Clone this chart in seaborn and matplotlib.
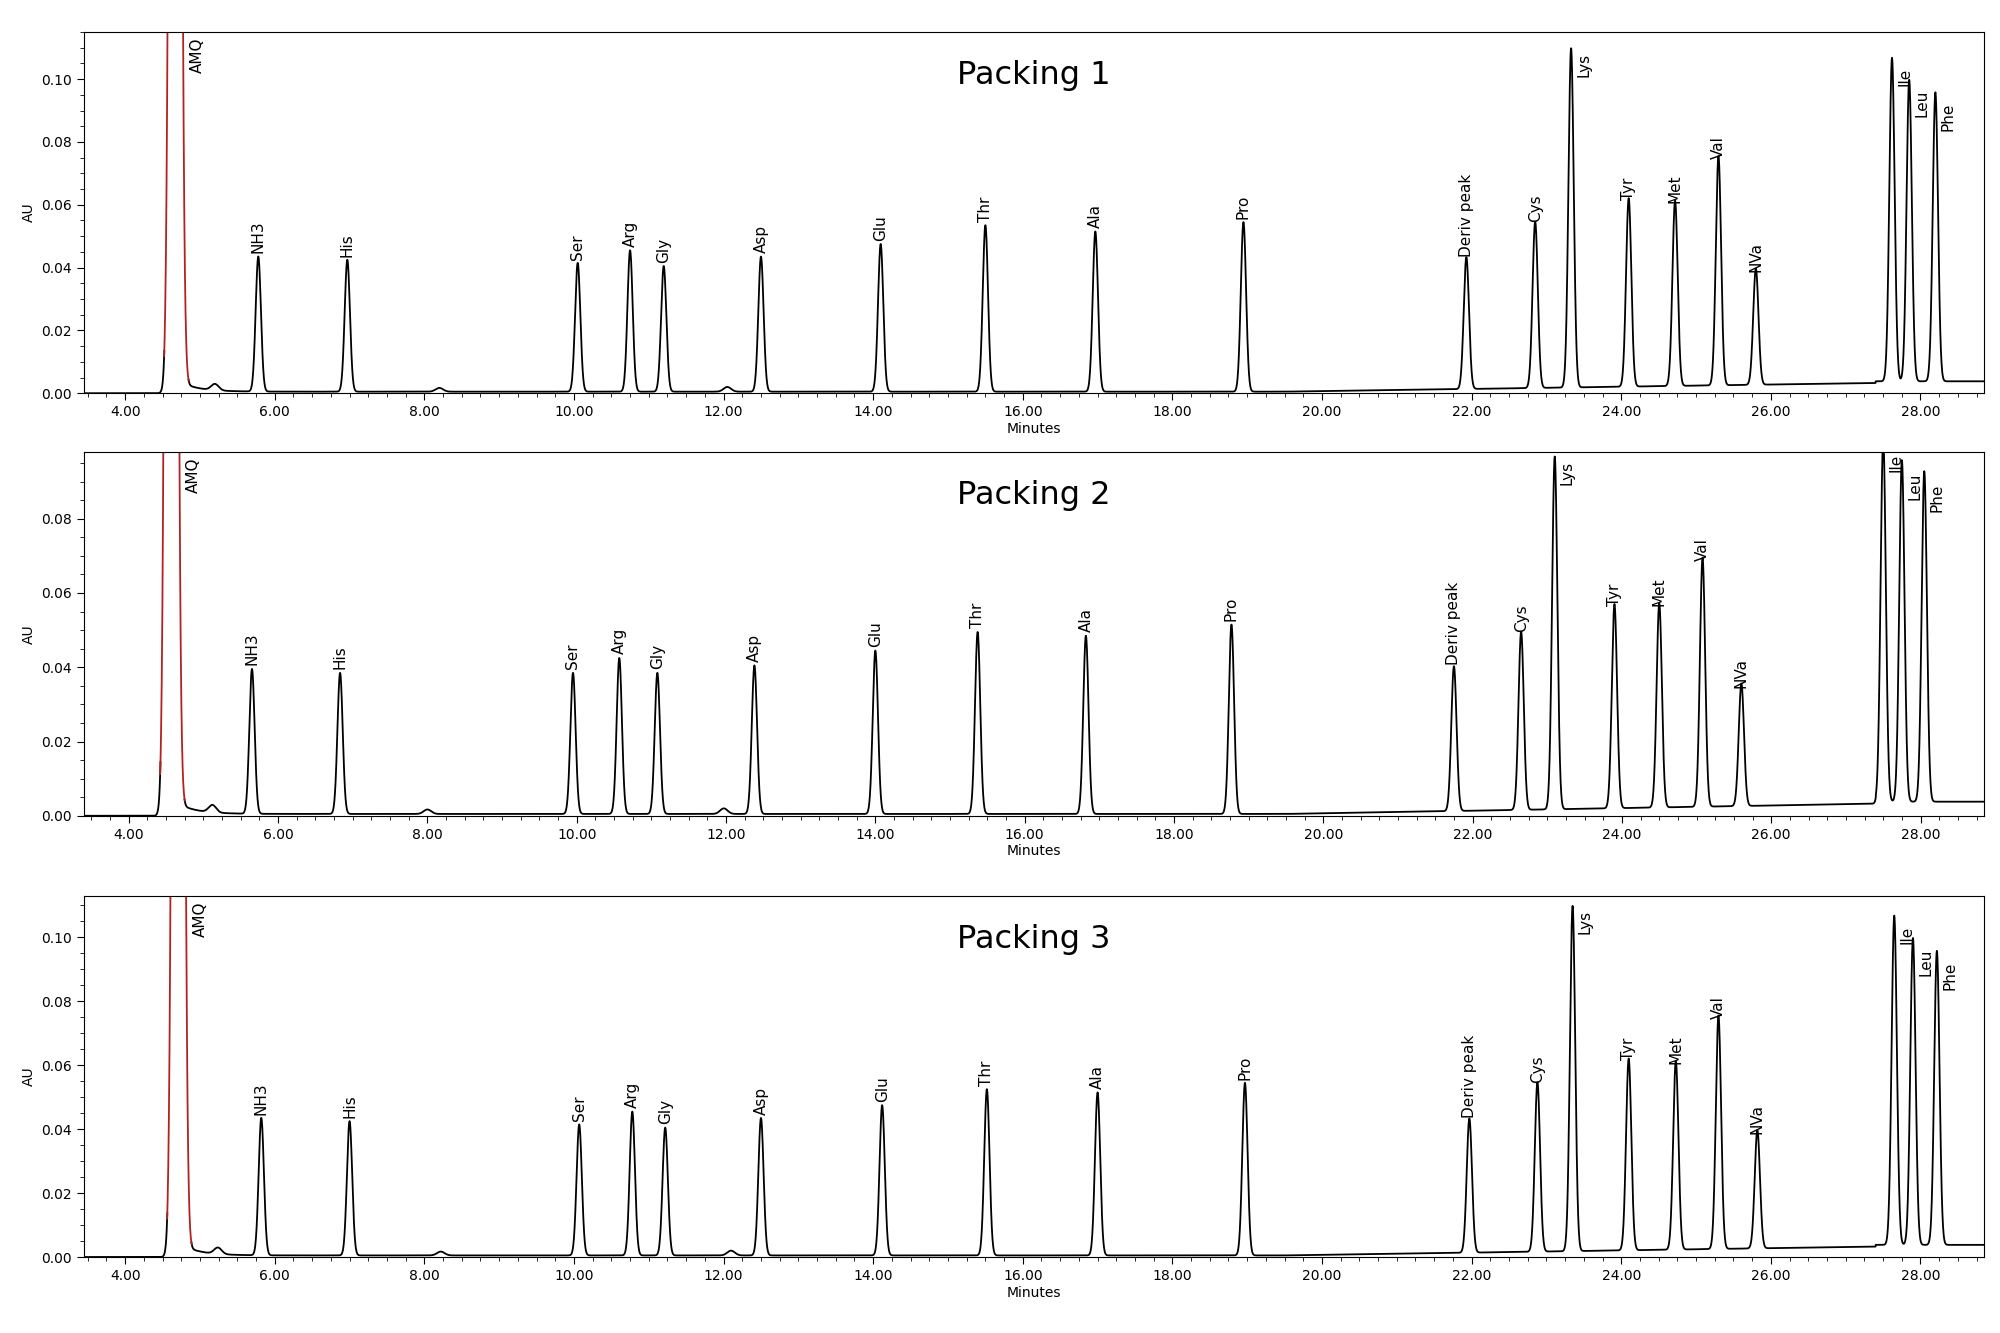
import numpy as np
import pandas as pd
import matplotlib
matplotlib.use("Agg")
import matplotlib.pyplot as plt
from matplotlib.ticker import MultipleLocator, FormatStrFormatter
import seaborn as sns

names = ["NH3","His","Ser","Arg","Gly","Asp","Glu","Thr","Ala","Pro","Deriv peak",
         "Cys","Lys","Tyr","Met","Val","NVa","Ile","Leu","Phe"]
side_label = ["Lys","Ile","Leu","Phe"]

rt1 = [5.78,6.97,10.05,10.75,11.2,12.5,14.1,15.5,16.97,18.95,21.93,22.85,23.33,24.1,24.72,25.3,25.8,27.62,27.85,28.2]
h1  = [0.043,0.042,0.041,0.045,0.040,0.043,0.047,0.053,0.051,0.054,0.042,0.053,0.108,0.060,0.059,0.073,0.037,0.103,0.096,0.092]
rt2 = [5.65,6.83,9.95,10.57,11.08,12.38,14.0,15.37,16.82,18.77,21.75,22.65,23.1,23.9,24.5,25.08,25.6,27.5,27.75,28.05]
h2  = [0.039,0.038,0.038,0.042,0.038,0.040,0.044,0.049,0.048,0.051,0.039,0.048,0.095,0.055,0.055,0.067,0.033,0.098,0.092,0.089]
rt3 = [5.82,7.0,10.07,10.78,11.22,12.5,14.12,15.52,17.0,18.97,21.97,22.88,23.35,24.1,24.73,25.3,25.82,27.65,27.9,28.22]
h3  = [0.043,0.042,0.041,0.045,0.040,0.043,0.047,0.052,0.051,0.054,0.042,0.053,0.108,0.060,0.059,0.073,0.037,0.103,0.096,0.092]
amq_rt = [4.67, 4.57, 4.71]
minor_rt = [[5.2,8.2,12.05],[5.12,8.0,11.97],[5.24,8.22,12.1]]
minor_h = [0.002,0.0012,0.0015]
ylims = [0.115, 0.098, 0.113]
titles = ["Packing 1","Packing 2","Packing 3"]
xlims = [(3.45,28.85),(3.4,28.85),(3.45,28.85)]

rts = [rt1, rt2, rt3]; hs = [h1, h2, h3]
fig = plt.figure(figsize=(20, 13.33), dpi=100)
boxes = [(0.042,0.705,0.950,0.271),(0.042,0.388,0.950,0.273),(0.042,0.057,0.950,0.271)]
for i in range(3):
    ax = fig.add_axes(boxes[i])
    t = np.linspace(xlims[i][0], xlims[i][1], 12000)
    base = np.where(t < 19.5, 0.0005, 0.0005 + (t - 19.5) * 0.00035)
    base = np.where(t > 27.4, 0.0038, base)
    base = np.where(t < amq_rt[i], 0.0, base)
    y = base.copy()
    for r, h in zip(rts[i], hs[i]):
        y += h * np.exp(-0.5 * ((t - r) / 0.035) ** 2)
    for r, h in zip(minor_rt[i], minor_h):
        y += h * np.exp(-0.5 * ((t - r) / 0.05) ** 2)
    amq = 1.0 * np.exp(-0.5 * ((t - amq_rt[i]) / 0.05) ** 2)
    tail = np.where(t > amq_rt[i], 0.004 * np.exp(-(t - amq_rt[i]) / 0.25), 0)
    y += amq + tail
    df = pd.DataFrame({"t": t, "y": y})
    lo, hi = amq_rt[i] - 0.15, amq_rt[i] + 0.18
    sns.lineplot(data=df[df.t <= lo + 0.005], x="t", y="y", ax=ax, color="black", lw=1.3)
    sns.lineplot(data=df[df.t >= hi - 0.005], x="t", y="y", ax=ax, color="black", lw=1.3)
    sns.lineplot(data=df[(df.t > lo) & (df.t < hi)], x="t", y="y", ax=ax, color="#b22222", lw=1.3)
    ax.set_xlim(*xlims[i]); ax.set_ylim(0, ylims[i])
    ymax = ylims[i]
    for n, r, h in zip(names, rts[i], hs[i]):
        if n in side_label:
            ax.text(r + 0.07, min(h + 0.0005, ymax - 0.0005), n, rotation=90, ha="left", va="top", fontsize=11)
        else:
            ax.text(r, h + 0.0015, n, rotation=90, ha="center", va="bottom", fontsize=11)
    ax.text(amq_rt[i] + 0.2, ymax * 0.985, "AMQ", rotation=90, ha="left", va="top", fontsize=11)
    ax.text(0.5, 0.88, titles[i], transform=ax.transAxes, ha="center", va="center", fontsize=23)
    ax.xaxis.set_major_locator(MultipleLocator(2))
    ax.xaxis.set_minor_locator(MultipleLocator(0.25))
    ax.xaxis.set_major_formatter(FormatStrFormatter("%.2f"))
    ax.yaxis.set_major_locator(MultipleLocator(0.02))
    ax.yaxis.set_minor_locator(MultipleLocator(0.005))
    ax.yaxis.set_major_formatter(FormatStrFormatter("%.2f"))
    ax.tick_params(which="both", direction="out", labelsize=10)
    ax.tick_params(which="major", length=5)
    ax.tick_params(which="minor", length=3)
    ax.set_xlabel("Minutes", fontsize=10, labelpad=2)
    ax.set_ylabel("AU", fontsize=10)
    for s in ax.spines.values():
        s.set_linewidth(0.8)
fig.savefig("out.png", dpi=100)
